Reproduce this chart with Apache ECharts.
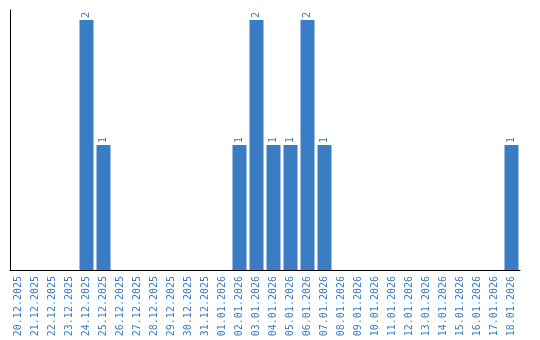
<!DOCTYPE html>
<html>
<head>
<meta charset="utf-8">
<script src="https://cdn.jsdelivr.net/npm/echarts@6/dist/echarts.min.js"></script>
<style>html,body{margin:0;padding:0;background:#fff;}#c{width:540px;height:340px;}</style>
</head>
<body>
<div id="c"></div>
<script>
const categories = ['20.12.2025','21.12.2025','22.12.2025','23.12.2025','24.12.2025','25.12.2025','26.12.2025','27.12.2025','28.12.2025','29.12.2025','30.12.2025','31.12.2025','01.01.2026','02.01.2026','03.01.2026','04.01.2026','05.01.2026','06.01.2026','07.01.2026','08.01.2026','09.01.2026','10.01.2026','11.01.2026','12.01.2026','13.01.2026','14.01.2026','15.01.2026','16.01.2026','17.01.2026','18.01.2026'];
const values = [0,0,0,0,2,1,0,0,0,0,0,0,0,1,2,1,1,2,1,0,0,0,0,0,0,0,0,0,0,1];

const chart = echarts.init(document.getElementById('c'), null, {renderer:'canvas'});
chart.setOption({
  animation: false,
  grid: {left: 10, top: 10, width: 510, height: 260, containLabel: false},
  xAxis: {
    type: 'category',
    data: categories,
    axisLine: {lineStyle: {color: '#000', width: 1}},
    axisTick: {show: false},
    axisLabel: {rotate: 90, interval: 0, color: '#3a7bbf', fontFamily: 'DejaVu Sans Mono', fontSize: 10, margin: 6}
  },
  yAxis: {
    type: 'value',
    min: 0,
    max: 2.08,
    axisLine: {show: true, lineStyle: {color: '#000', width: 1}},
    axisTick: {show: false},
    axisLabel: {show: false},
    splitLine: {show: false}
  },
  series: [{
    type: 'bar',
    data: values.map(v => v === 0 ? null : v),
    barWidth: 14,
    itemStyle: {color: '#3b7dc4'},
    label: {
      show: true,
      position: 'top',
      rotate: 90,
      align: 'left',
      verticalAlign: 'middle',
      distance: 2,
      color: '#3a7bbf',
      fontFamily: 'DejaVu Sans Mono',
      fontSize: 10
    }
  }]
});
</script>
</body>
</html>
